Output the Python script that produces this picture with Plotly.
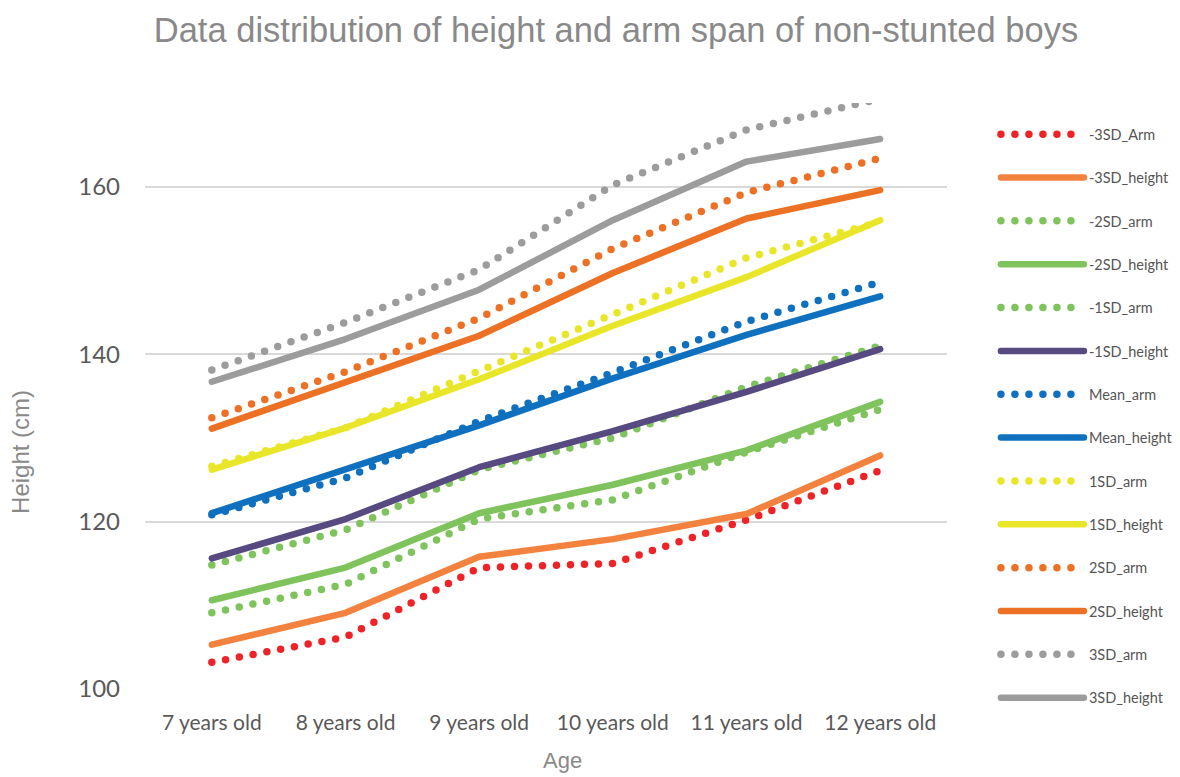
import plotly.graph_objects as go

# Age groups on the x axis
ages = ["7 years old", "8 years old", "9 years old", "10 years old", "11 years old", "12 years old"]

# Reference curves (cm) for arm span and height at each SD level
neg3sd_arm = [103.2, 106.2, 114.5, 115.0, 120.2, 126.1]
neg3sd_height = [105.3, 109.1, 115.8, 117.9, 120.9, 127.9]
neg2sd_arm = [109.1, 112.5, 120.3, 122.6, 128.3, 133.4]
neg2sd_height = [110.6, 114.5, 121.0, 124.4, 128.5, 134.3]
neg1sd_arm = [114.8, 119.0, 126.2, 130.0, 136.1, 141.0]
neg1sd_height = [115.6, 120.3, 126.5, 130.8, 135.5, 140.6]
mean_arm = [120.8, 125.2, 132.0, 137.8, 143.9, 148.6]
mean_height = [121.0, 126.2, 131.5, 137.1, 142.3, 146.9]
pos1sd_arm = [126.6, 131.2, 138.0, 144.7, 151.5, 155.8]
pos1sd_height = [126.2, 131.2, 137.0, 143.4, 149.2, 156.0]
pos2sd_arm = [132.4, 137.9, 144.3, 152.6, 159.3, 163.4]
pos2sd_height = [131.1, 136.6, 142.2, 149.7, 156.2, 159.6]
pos3sd_arm = [138.1, 143.8, 150.1, 160.2, 166.8, 170.5]
pos3sd_height = [136.7, 141.8, 147.7, 156.0, 163.0, 165.7]

y_ticks = [100, 120, 140, 160]

# (name, values, colour, dotted?)
series = [
    ("-3SD_Arm", neg3sd_arm, "#ED2327", True),
    ("-3SD_height", neg3sd_height, "#F4823F", False),
    ("-2SD_arm", neg2sd_arm, "#7EC35B", True),
    ("-2SD_height", neg2sd_height, "#7EC35B", False),
    ("-1SD_arm", neg1sd_arm, "#7EC35B", True),
    ("-1SD_height", neg1sd_height, "#574A80", False),
    ("Mean_arm", mean_arm, "#1070C0", True),
    ("Mean_height", mean_height, "#1070C0", False),
    ("1SD_arm", pos1sd_arm, "#E9E62A", True),
    ("1SD_height", pos1sd_height, "#E9E62A", False),
    ("2SD_arm", pos2sd_arm, "#EC7125", True),
    ("2SD_height", pos2sd_height, "#EC7125", False),
    ("3SD_arm", pos3sd_arm, "#9C9C9C", True),
    ("3SD_height", pos3sd_height, "#9C9C9C", False),
]

fig = go.Figure()
for name, vals, color, dotted in series:
    fig.add_trace(go.Scatter(
        x=ages, y=vals, name=name, mode="lines",
        legendgroup=name,
        line=dict(color=color, width=7.5 if dotted else 6.5,
                  dash="0px,14px" if dotted else "solid"),
        hoverinfo="x+y+name",
    ))

label_font = "Lato, Carlito, sans-serif"
title_font = "Liberation Sans, Arial, sans-serif"

fig.update_layout(
    width=1180, height=777,
    paper_bgcolor="white", plot_bgcolor="white",
    margin=dict(l=145, r=233, t=103, b=88, autoexpand=False),
    title=dict(text="Data distribution of height and arm span of non-stunted boys",
               font=dict(family=title_font, size=34.5, color="#898989"),
               x=0.522, xanchor="center", y=0.962, yanchor="middle"),
    showlegend=True,
    legend=dict(x=1.061, xanchor="left", xref="paper", y=0.974, yanchor="top",
                font=dict(family=label_font, size=14.5, color="#555555"),
                tracegroupgap=21.5, itemwidth=83, maxheight=760,
                bgcolor="rgba(0,0,0,0)"),
    xaxis=dict(range=[-0.5, 5.5], showgrid=False, zeroline=False, showline=False,
               ticks="", tickfont=dict(family=label_font, size=21, color="#595959"),
               ticklabelstandoff=19),
    yaxis=dict(range=[100, 170], tickvals=y_ticks, showgrid=True,
               gridcolor="#D9D9D9", gridwidth=2, zeroline=False, showline=False,
               ticks="", tickfont=dict(family=label_font, size=24, color="#595959"),
               ticklabelstandoff=24),
    annotations=[
        dict(text="Height (cm)", xref="paper", yref="paper", x=-0.155, y=0.404,
             textangle=-90, showarrow=False, xanchor="center", yanchor="middle",
             font=dict(family=title_font, size=24, color="#898989")),
        dict(text="Age", xref="paper", yref="paper", x=0.52, y=-0.122,
             showarrow=False, xanchor="center", yanchor="middle",
             font=dict(family=title_font, size=22, color="#898989")),
    ],
)

# Round caps turn the zero-length dashes into dots and soften line ends
round_caps = """
var st = document.createElement('style');
st.textContent = 'path.js-line { stroke-linecap: round !important; stroke-linejoin: round !important; }';
document.head.appendChild(st);
"""

fig.write_html("out.html", post_script=round_caps)
